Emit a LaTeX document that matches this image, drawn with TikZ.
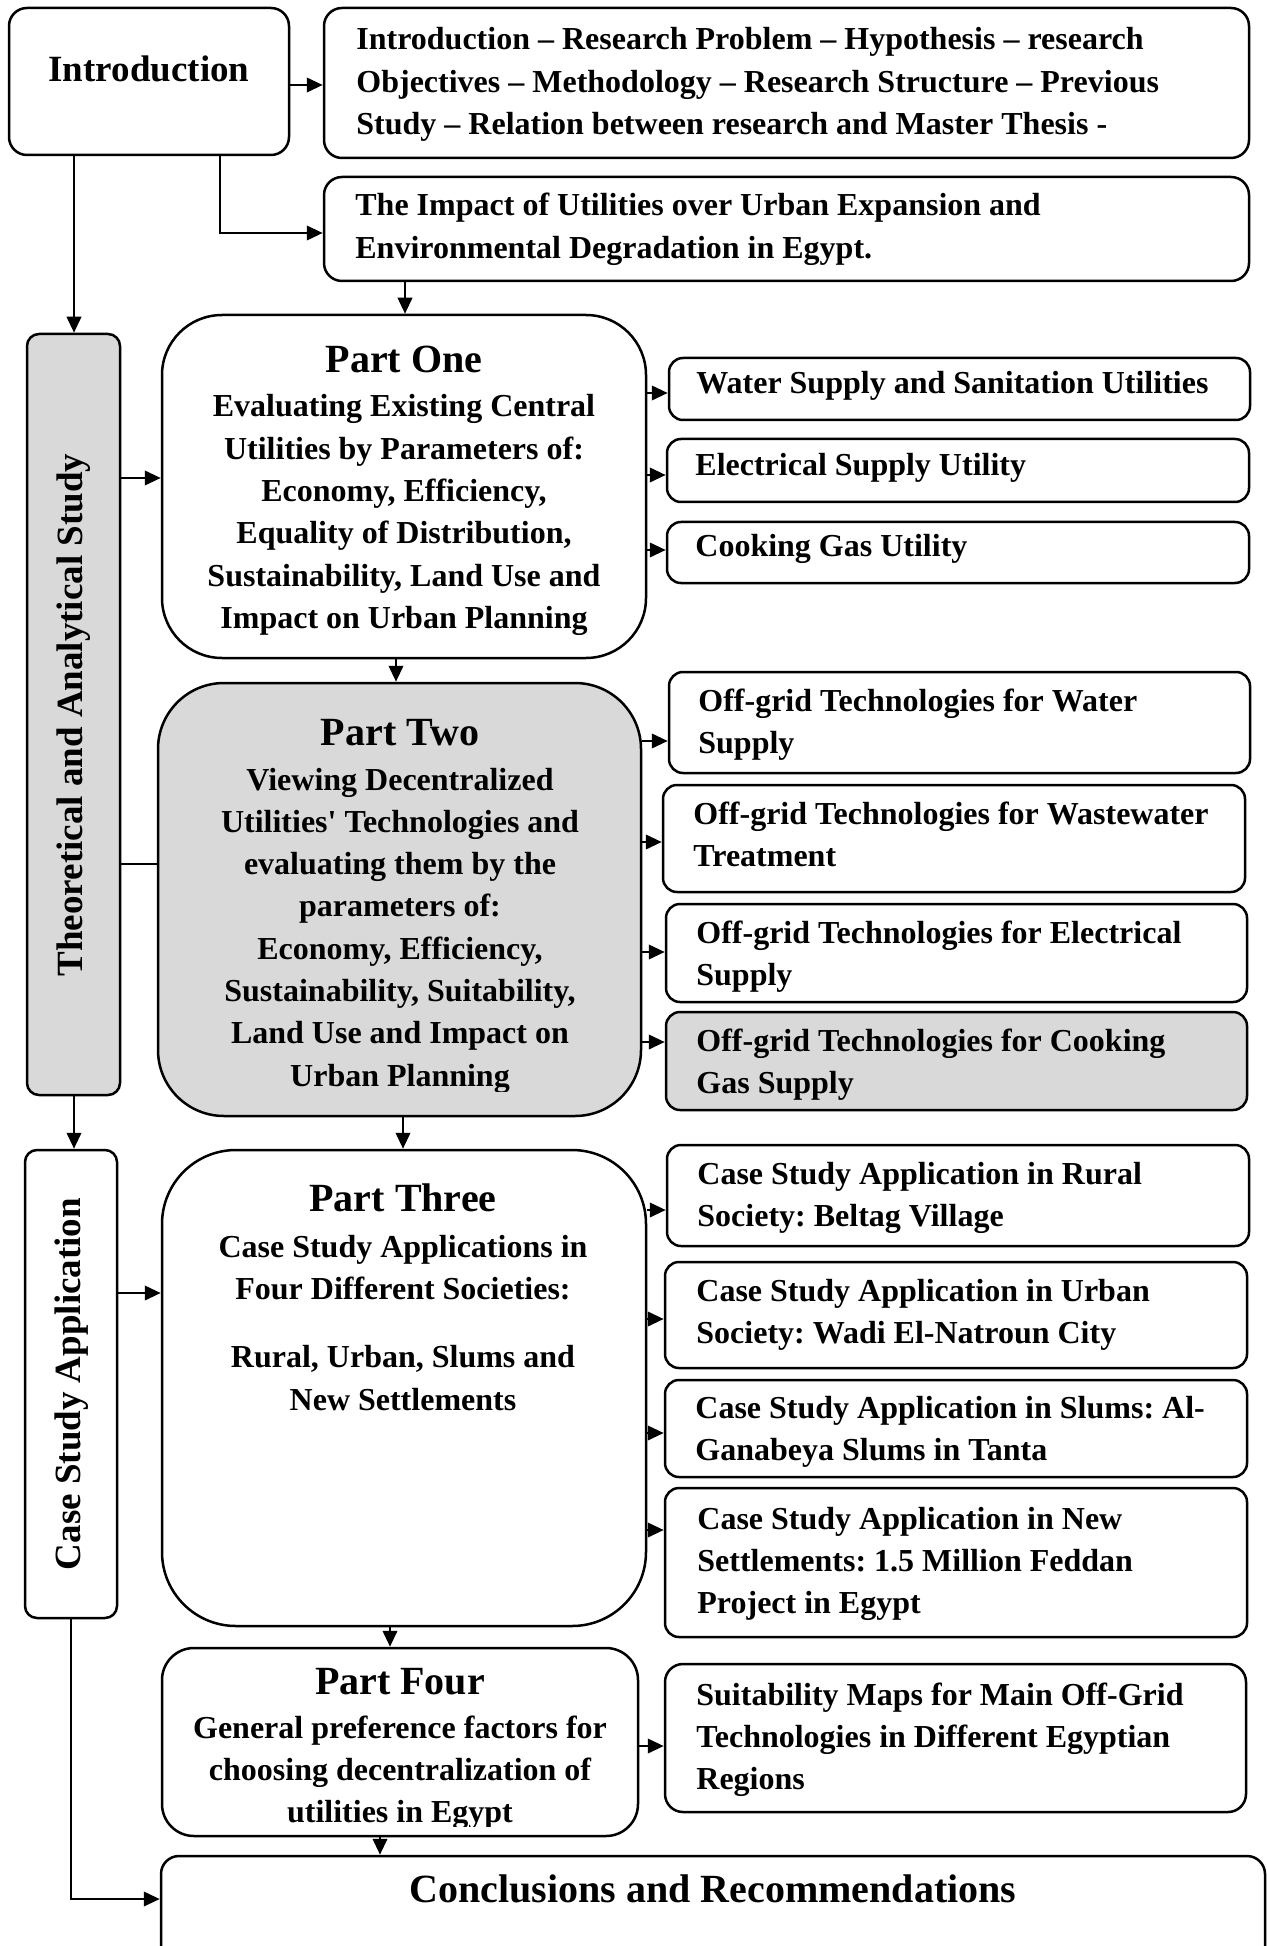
\documentclass[tikz,border=0pt]{standalone}
\usepackage{fontspec}
\setmainfont{Liberation Serif}
\usetikzlibrary{fit,arrows.meta}
\definecolor{panelgray}{HTML}{D9D9D9}
\frenchspacing
\newcommand\bodysize{\fontsize{16}{21.15}\selectfont\bfseries}
\newcommand\headsize{\fontsize{20}{24}\selectfont\bfseries}
\newcommand\labelsize{\fontsize{18.5}{22}\selectfont\bfseries}

\begin{document}
\begin{tikzpicture}[x=0.5pt,y=-0.5pt,
  frame/.style={draw, line width=1.25pt, inner sep=0pt},
  sidebox/.style={frame, rounded corners=7pt},
  conn/.style={line width=1.3pt},
  arr/.style={conn, -{Triangle[length=8pt,width=7.2pt]}},
  % multi-line texts are placed by the baseline of their last line
  ltext/.style={anchor=base west, inner sep=0pt, align=left, font=\bodysize},
  ctext/.style={anchor=base, inner sep=0pt, align=center, font=\bodysize},
  ttext/.style={anchor=base, inner sep=0pt, font=\headsize},
]
\useasboundingbox (0,0) rectangle (1267,1946);

% ---------- introduction row ----------
\node[frame, rounded corners=9pt, fit={(9,8)(289,155)}, font=\labelsize] (intro) {Introduction};
\node[sidebox, rounded corners=9pt, fit={(324,8)(1249,158)}] (topics) {};
\node[ltext] (topicsT) at (356,134.6) {Introduction – Research Problem – Hypothesis – research\\Objectives – Methodology – Research Structure – Previous\\Study – Relation between research and Master Thesis -};
\node[sidebox, rounded corners=9pt, fit={(324,177)(1249,281)}] (impact) {};
\node[ltext] (impactT) at (355,258.3) {The Impact of Utilities over Urban Expansion and\\Environmental Degradation in Egypt.};

% ---------- side labels ----------
\node[frame, rounded corners=6pt, fill=panelgray, fit={(27,334)(120,1095)}] (theo) {};
\node[rotate=90, inner sep=0pt, font=\labelsize] (theoT) at (74,715) {Theoretical and Analytical Study};
\node[frame, rounded corners=6pt, fit={(25,1150)(117,1618)}] (case) {};
\node[rotate=90, inner sep=0pt, font=\labelsize] (caseT) at (72,1384) {Case Study Application};

% ---------- part one ----------
\node[frame, rounded corners=30pt, fit={(162,315)(646,658)}] (p1) {};
\node[ttext] (p1title) at (404,373) {Part One};
\node[ctext] (p1body) at (404,628.5) {Evaluating Existing Central\\Utilities by Parameters of:\\Economy, Efficiency,\\Equality of Distribution,\\Sustainability, Land Use and\\Impact on Urban Planning};

\node[sidebox, fit={(669,358)(1250,420)}] (wat) {};
\node[ltext] (watT) at (696,394) {Water Supply and Sanitation Utilities};
\node[sidebox, fit={(667,439)(1249,502)}] (ele) {};
\node[ltext] (eleT) at (695,476) {Electrical Supply Utility};
\node[sidebox, fit={(667,522)(1249,583)}] (cook) {};
\node[ltext] (cookT) at (695,557) {Cooking Gas Utility};

% ---------- part two ----------
\node[frame, rounded corners=33pt, fill=panelgray, fit={(158,683)(641,1116)}] (p2) {};
\node[ttext] (p2title) at (400,745) {Part Two};
\begin{scope}
  \clip (160,690) rectangle (640,1091);
  \node[ctext] (p2body) at (400,1086.1) {Viewing Decentralized\\Utilities\textquotesingle{} Technologies and\\evaluating them by the\\parameters of:\\Economy, Efficiency,\\Sustainability, Suitability,\\Land Use and Impact on\\Urban Planning};
\end{scope}

\node[sidebox, fit={(669,672)(1250,773)}] (wog) {};
\node[ltext] (wogT) at (698,753.3) {Off-grid Technologies for Water\\Supply};
\node[sidebox, fit={(663,785)(1245,892)}] (wwt) {};
\node[ltext] (wwtT) at (693,866.3) {Off-grid Technologies for Wastewater\\Treatment};
\node[sidebox, fit={(666,904)(1247,1002)}] (eog) {};
\node[ltext] (eogT) at (696,985.3) {Off-grid Technologies for Electrical\\Supply};
\node[sidebox, fill=panelgray, fit={(666,1012)(1247,1110)}] (cog) {};
\node[ltext] (cogT) at (696,1093.3) {Off-grid Technologies for Cooking\\Gas Supply};

% ---------- part three ----------
\node[frame, rounded corners=37pt, fit={(162,1150)(646,1626)}] (p3) {};
\node[ttext] (p3title) at (403,1211) {Part Three};
\node[ctext] (p3body) at (403,1410) {Case Study Applications in\\Four Different Societies:\\[12.8pt]Rural, Urban, Slums and\\New Settlements};

\node[sidebox, fit={(667,1145)(1249,1246)}] (rur) {};
\node[ltext] (rurT) at (697,1226.3) {Case Study Application in Rural\\Society: Beltag Village};
\node[sidebox, fit={(665,1262)(1247,1368)}] (urb) {};
\node[ltext] (urbT) at (696,1343.3) {Case Study Application in Urban\\Society: Wadi El-Natroun City};
\node[sidebox, fit={(665,1380)(1247,1477)}] (slu) {};
\node[ltext] (sluT) at (695,1460.3) {Case Study Application in Slums: Al-\\Ganabeya Slums in Tanta};
\node[sidebox, fit={(665,1488)(1247,1637)}] (nse) {};
\node[ltext] (nseT) at (697,1613.6) {Case Study Application in New\\Settlements: 1.5 Million Feddan\\Project in Egypt};

% ---------- part four ----------
\node[frame, rounded corners=16pt, fit={(162,1648)(638,1836)}] (p4) {};
\node[ttext] (p4title) at (400,1694) {Part Four};
\begin{scope}
  \clip (164,1650) rectangle (636,1826);
  \node[ctext] (p4body) at (400,1822.6) {General preference factors for\\choosing decentralization of\\utilities in Egypt};
\end{scope}

\node[sidebox, rounded corners=9pt, fit={(665,1664)(1246,1812)}] (suit) {};
\node[ltext] (suitT) at (696,1789.6) {Suitability Maps for Main Off-Grid\\Technologies in Different Egyptian\\Regions};

% ---------- conclusions ----------
\node[frame, rounded corners=9pt, fit={(161,1856)(1265,1990)}] (conc) {};
\node[ttext] (concT) at (713,1902) {Conclusions and Recommendations};

% ---------- connectors ----------
\draw[arr] (intro.east |- 0,85) -- (topics.west |- 0,85);
\draw[arr] (intro.south -| 220,0) |- (impact.west |- 0,233);
\draw[arr] (impact.south -| 405,0) -- (p1.north -| 405,0);
\draw[arr] (intro.south -| 74,0) -- (theo.north -| 74,0);
\draw[arr] (theo.east |- 0,478) -- (p1.west |- 0,478);
\draw[arr] (p1.east |- 0,393) -- (wat.west |- 0,393);
\draw[arr] (p1.east |- 0,475) -- (ele.west |- 0,475);
\draw[arr] (p1.east |- 0,550) -- (cook.west |- 0,550);
\draw[arr] (p1.south -| 396,0) -- (p2.north -| 396,0);
\draw[conn] (theo.east |- 0,864) -- (p2.west |- 0,864);
\draw[arr] (p2.east |- 0,741) -- (wog.west |- 0,741);
\draw[arr] (p2.east |- 0,842) -- (wwt.west |- 0,842);
\draw[arr] (p2.east |- 0,952) -- (eog.west |- 0,952);
\draw[arr] (p2.east |- 0,1042) -- (cog.west |- 0,1042);
\draw[arr] (theo.south -| 74,0) -- (case.north -| 74,0);
\draw[arr] (case.east |- 0,1293) -- (p3.west |- 0,1293);
\draw[arr] (p2.south -| 403,0) -- (p3.north -| 403,0);
\draw[arr] (p3.east |- 0,1210) -- (rur.west |- 0,1210);
\draw[arr] (p3.east |- 0,1319) -- (urb.west |- 0,1319);
\draw[arr] (p3.east |- 0,1433) -- (slu.west |- 0,1433);
\draw[arr] (p3.east |- 0,1530) -- (nse.west |- 0,1530);
\draw[arr] (p3.south -| 390,0) -- (p4.north -| 390,0);
\draw[arr] (p4.east |- 0,1746) -- (suit.west |- 0,1746);
\draw[arr] (p4.south -| 380,0) -- (conc.north -| 380,0);
\draw[arr] (case.south -| 71,0) |- (conc.west |- 0,1899);
\end{tikzpicture}
\end{document}
